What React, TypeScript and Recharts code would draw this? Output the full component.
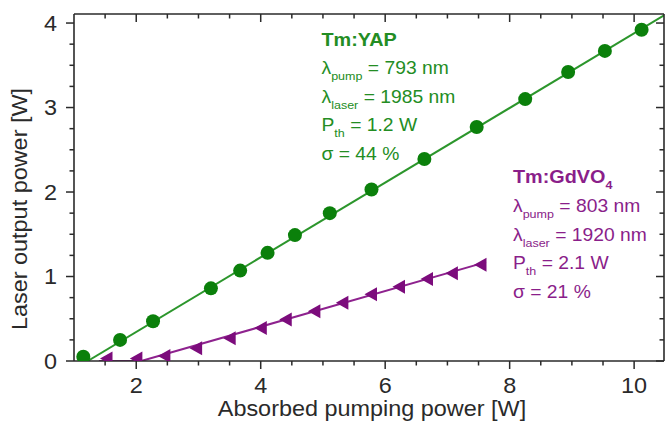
import React from "react";
import { LineChart, Line, XAxis, YAxis } from "recharts";

// Tm:YAP measured points: absorbed pump power [W] -> laser output [W]
const yapPump = [1.15, 1.74, 2.27, 3.2, 3.67, 4.11, 4.55, 5.11, 5.78, 6.63, 7.47, 8.25, 8.94, 9.53, 10.12];
const yapOut = [0.05, 0.25, 0.47, 0.86, 1.07, 1.28, 1.49, 1.75, 2.03, 2.39, 2.77, 3.1, 3.42, 3.67, 3.92];

// Tm:GdVO4 measured points
const gdvPump = [1.53, 2.01, 2.46, 2.97, 3.51, 4.01, 4.41, 4.87, 5.32, 5.78, 6.23, 6.68, 7.08, 7.54];
const gdvOut = [0.03, 0.03, 0.06, 0.15, 0.27, 0.39, 0.49, 0.59, 0.69, 0.79, 0.88, 0.97, 1.04, 1.14];

// linear fits
const yapFitPump = [1.22, 10.48];
const yapFitOut = [0, 4.09];
const gdvFitPump = [1.4, 2.08, 7.62];
const gdvFitOut = [0, 0, 1.17];

// ticks
const xMajor = [2, 4, 6, 8, 10];
const xMinor = [1.5, 2.5, 3, 3.5, 4.5, 5, 5.5, 6.5, 7, 7.5, 8.5, 9, 9.5];
const yMajor = [0, 1, 2, 3, 4];
const yMinor = [0.25, 0.5, 0.75, 1.25, 1.5, 1.75, 2.25, 2.5, 2.75, 3.25, 3.5, 3.75];

const FONT = "'Liberation Sans', Arial, Helvetica, sans-serif";
const SX = 1.09; // the original lettering is a bit wider than Arial
const INK = "#2a2a2a";
const GREEN_LINE = "#2c962c";
const GREEN_DOT = "#0b800b";
const GREEN_TXT = "#238d23";
const PURPLE_LINE = "#8e228e";
const PURPLE_DOT = "#7c0c7c";
const PURPLE_TXT = "#8a1e8a";

const rows = (xs: number[], ys: number[]) => xs.map((x, i) => ({ x, y: ys[i] }));
const sorted = (a: number[], b: number[]) => [...a, ...b].sort((p, q) => p - q);

type Side = "left" | "right" | "top" | "bottom";

function makeTick(side: Side, majors: number[], withLabel: boolean) {
  return (props: any) => {
    const { x, y, payload } = props;
    const v = payload.value;
    const major = majors.includes(v);
    const len = major ? 8 : 4.5;
    let x2 = x;
    let y2 = y;
    if (side === "left") x2 = x - len;
    if (side === "right") x2 = x - len;
    if (side === "bottom") y2 = y + len;
    if (side === "top") y2 = y + len;
    let label = null;
    if (withLabel && major) {
      const tx = side === "left" ? x - 17 : x;
      const ty = side === "left" ? y + 7.7 : y + 31.7;
      label = (
        <text
          transform={`translate(${tx},${ty}) scale(${SX},1)`}
          textAnchor={side === "left" ? "end" : "middle"}
          fontSize={21.5}
          fontFamily={FONT}
          fill={INK}
        >
          {v}
        </text>
      );
    }
    return (
      <g>
        <line x1={x} y1={y} x2={x2} y2={y2} stroke={INK} strokeWidth={1.5} />
        {label}
      </g>
    );
  };
}

const Triangle = (props: any) => {
  const { cx, cy } = props;
  if (cx == null || cy == null) return <g />;
  return <polygon points={`${cx - 7},${cy} ${cx + 5.5},${cy - 7} ${cx + 5.5},${cy + 7}`} fill={PURPLE_DOT} />;
};

const Txt = ({ x, y, fill, size = 17.7, weight = "normal", children }: any) => (
  <text
    transform={`translate(${x},${y}) scale(${SX},1)`}
    fill={fill}
    fontSize={size}
    fontWeight={weight}
    fontFamily={FONT}
    style={{ whiteSpace: "pre" }}
  >
    {children}
  </text>
);

const SUB = 11.5;

export default function App() {
  const axisLine = { stroke: INK, strokeWidth: 1.6 };
  return (
    <div style={{ position: "absolute", left: 0, top: 0, width: 665, height: 421, background: "#fff" }}>
      <LineChart width={665} height={421} margin={{ top: 13, right: 0, bottom: 0, left: 0 }}>
        <XAxis
          xAxisId="b"
          type="number"
          dataKey="x"
          domain={[1, 10.48]}
          allowDataOverflow
          ticks={sorted(xMajor, xMinor)}
          interval={0}
          height={60}
          tickSize={0}
          tickMargin={0}
          tickLine={false}
          axisLine={axisLine}
          tick={makeTick("bottom", xMajor, true)}
        />
        <XAxis
          xAxisId="t"
          orientation="top"
          type="number"
          dataKey="x"
          domain={[1, 10.48]}
          allowDataOverflow
          ticks={sorted(xMajor, xMinor)}
          interval={0}
          height={1}
          tickSize={0}
          tickMargin={0}
          tickLine={false}
          axisLine={axisLine}
          tick={makeTick("top", xMajor, false)}
        />
        <YAxis
          yAxisId="l"
          type="number"
          domain={[0, 4.107]}
          allowDataOverflow
          ticks={sorted(yMajor, yMinor)}
          interval={0}
          width={74}
          tickSize={0}
          tickMargin={0}
          tickLine={false}
          axisLine={axisLine}
          tick={makeTick("left", yMajor, true)}
        />
        <YAxis
          yAxisId="r"
          orientation="right"
          type="number"
          domain={[0, 4.107]}
          allowDataOverflow
          ticks={sorted(yMajor, yMinor)}
          interval={0}
          width={1}
          tickSize={0}
          tickMargin={0}
          tickLine={false}
          axisLine={axisLine}
          tick={makeTick("right", yMajor, false)}
        />
        <Line
          xAxisId="b"
          yAxisId="l"
          data={rows(yapFitPump, yapFitOut)}
          dataKey="y"
          type="linear"
          stroke={GREEN_LINE}
          strokeWidth={2}
          dot={false}
          isAnimationActive={false}
        />
        <Line
          xAxisId="b"
          yAxisId="l"
          data={rows(gdvFitPump, gdvFitOut)}
          dataKey="y"
          type="linear"
          stroke={PURPLE_LINE}
          strokeWidth={2}
          dot={false}
          isAnimationActive={false}
        />
        <Line
          xAxisId="b"
          yAxisId="l"
          data={rows(yapPump, yapOut)}
          dataKey="y"
          stroke="none"
          dot={{ r: 7, fill: GREEN_DOT, stroke: "none" }}
          isAnimationActive={false}
        />
        <Line
          xAxisId="b"
          yAxisId="l"
          data={rows(gdvPump, gdvOut)}
          dataKey="y"
          stroke="none"
          dot={<Triangle />}
          isAnimationActive={false}
        />
      </LineChart>

      <svg
        width={665}
        height={421}
        style={{ position: "absolute", left: 0, top: 0, pointerEvents: "none" }}
      >
        <text
          transform={`translate(27,209) rotate(-90) scale(${SX},1)`}
          textAnchor="middle"
          fontSize={21.5}
          fontFamily={FONT}
          fill={INK}
        >
          Laser output power [W]
        </text>
        <text
          transform={`translate(372,416) scale(${SX},1)`}
          textAnchor="middle"
          fontSize={21.5}
          fontFamily={FONT}
          fill={INK}
        >
          Absorbed pumping power [W]
        </text>

        <Txt x={321.5} y={46} fill={GREEN_TXT} size={18.2} weight="bold">Tm:YAP</Txt>
        <Txt x={321.5} y={74} fill={GREEN_TXT}>
          λ<tspan fontSize={SUB} dy={6}>pump</tspan>
          <tspan dy={-6}> = 793 nm</tspan>
        </Txt>
        <Txt x={321.5} y={102.5} fill={GREEN_TXT}>
          λ<tspan fontSize={SUB} dy={6}>laser</tspan>
          <tspan dy={-6}> = 1985 nm</tspan>
        </Txt>
        <Txt x={321.5} y={131} fill={GREEN_TXT}>
          P<tspan fontSize={SUB} dy={6}>th</tspan>
          <tspan dy={-6}> = 1.2 W</tspan>
        </Txt>
        <Txt x={321.5} y={160} fill={GREEN_TXT}>σ = 44 %</Txt>

        <Txt x={513} y={183} fill={PURPLE_TXT} size={18.2} weight="bold">
          Tm:GdVO<tspan fontSize={SUB} dy={6}>4</tspan>
        </Txt>
        <Txt x={513} y={212} fill={PURPLE_TXT}>
          λ<tspan fontSize={SUB} dy={6}>pump</tspan>
          <tspan dy={-6}> = 803 nm</tspan>
        </Txt>
        <Txt x={513} y={240.5} fill={PURPLE_TXT}>
          λ<tspan fontSize={SUB} dy={6}>laser</tspan>
          <tspan dy={-6}> = 1920 nm</tspan>
        </Txt>
        <Txt x={513} y={269} fill={PURPLE_TXT}>
          P<tspan fontSize={SUB} dy={6}>th</tspan>
          <tspan dy={-6}> = 2.1 W</tspan>
        </Txt>
        <Txt x={513} y={297.5} fill={PURPLE_TXT}>σ = 21 %</Txt>
      </svg>
    </div>
  );
}
